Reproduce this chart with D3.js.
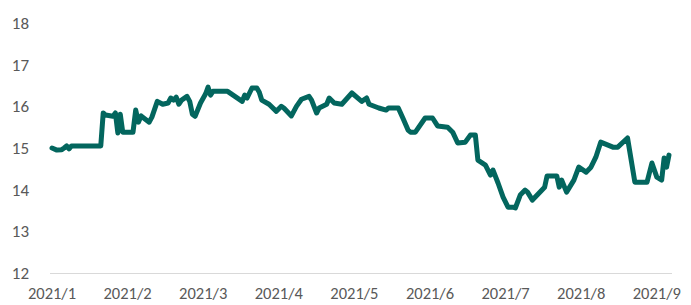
<!DOCTYPE html>
<html>
<head>
<meta charset="utf-8">
<script src="https://cdn.jsdelivr.net/npm/d3@7"></script>
<style>
  body { margin: 0; background: #fff; }
  svg { display: block; }
</style>
</head>
<body>
<div id="chart"></div>
<script>
// month tick labels (x axis) and y ticks
var months = ["2021/1", "2021/2", "2021/3", "2021/4", "2021/5", "2021/6", "2021/7", "2021/8", "2021/9"]
var yTicks = [12, 13, 14, 15, 16, 17, 18]

// series
var dates = [
  "2021-01-01", "2021-01-03", "2021-01-05", "2021-01-06", "2021-01-07", "2021-01-08", "2021-01-09", "2021-01-21",
  "2021-01-22", "2021-01-23", "2021-01-26", "2021-01-27", "2021-01-28", "2021-01-29", "2021-01-30",
  "2021-02-03", "2021-02-04", "2021-02-05", "2021-02-06", "2021-02-09", "2021-02-10", "2021-02-12", "2021-02-14",
  "2021-02-16", "2021-02-17", "2021-02-18", "2021-02-19", "2021-02-20", "2021-02-21", "2021-02-23", "2021-02-24",
  "2021-02-25", "2021-02-26", "2021-02-28",
  "2021-03-02", "2021-03-03", "2021-03-04", "2021-03-05", "2021-03-11", "2021-03-14", "2021-03-17", "2021-03-18",
  "2021-03-19", "2021-03-21", "2021-03-23", "2021-03-24", "2021-03-25", "2021-03-28", "2021-03-31",
  "2021-04-02", "2021-04-03", "2021-04-06", "2021-04-08", "2021-04-10", "2021-04-13", "2021-04-14", "2021-04-16",
  "2021-04-17", "2021-04-20", "2021-04-21", "2021-04-23", "2021-04-26", "2021-04-30",
  "2021-05-04", "2021-05-06", "2021-05-07", "2021-05-11", "2021-05-14", "2021-05-15", "2021-05-19", "2021-05-21",
  "2021-05-23", "2021-05-24", "2021-05-26", "2021-05-30",
  "2021-06-02", "2021-06-04", "2021-06-08", "2021-06-10", "2021-06-12", "2021-06-15", "2021-06-17", "2021-06-19",
  "2021-06-20", "2021-06-23", "2021-06-25", "2021-06-26", "2021-06-28", "2021-06-30",
  "2021-07-02", "2021-07-04", "2021-07-05", "2021-07-07", "2021-07-09", "2021-07-10", "2021-07-12", "2021-07-17",
  "2021-07-18", "2021-07-22", "2021-07-23", "2021-07-24", "2021-07-26", "2021-07-29", "2021-07-31",
  "2021-08-03", "2021-08-05", "2021-08-07", "2021-08-09", "2021-08-14", "2021-08-16", "2021-08-20", "2021-08-23",
  "2021-08-28", "2021-08-30",
  "2021-09-01", "2021-09-03", "2021-09-04", "2021-09-05", "2021-09-06"
]
var values = [
  15.00, 14.95, 14.96, 15.00, 15.05, 14.98, 15.05, 15.05,
  15.84, 15.79, 15.76, 15.84, 15.36, 15.81, 15.38,
  15.38, 15.91, 15.62, 15.77, 15.62, 15.74, 16.12, 16.05,
  16.08, 16.20, 16.15, 16.22, 16.05, 16.15, 16.24, 16.12,
  15.81, 15.76, 16.08,
  16.30, 16.46, 16.27, 16.36, 16.36, 16.24, 16.12, 16.27,
  16.20, 16.44, 16.44, 16.34, 16.15, 16.05, 15.88,
  16.00, 15.96, 15.77, 16.00, 16.17, 16.24, 16.15, 15.84,
  15.96, 16.05, 16.20, 16.08, 16.05, 16.32,
  16.12, 16.20, 16.05, 15.96, 15.91, 15.96, 15.96, 15.70,
  15.43, 15.38, 15.38, 15.72,
  15.72, 15.53, 15.50, 15.38, 15.12, 15.14, 15.31, 15.31,
  14.71, 14.59, 14.35, 14.47, 14.16, 13.82,
  13.58, 13.58, 13.56, 13.87, 13.99, 13.94, 13.75, 14.06,
  14.33, 14.33, 14.06, 14.23, 13.94, 14.23, 14.54,
  14.42, 14.54, 14.78, 15.14, 15.02, 15.02, 15.24, 14.18,
  14.18, 14.64,
  14.30, 14.23, 14.76, 14.54, 14.83
]

var width = 691
var height = 305
var left = 52, step = 75.6
var yTop = 23, yBottom = 273

var parse = d3.timeParse("%Y-%m-%d")
var monthDates = months.map(function(m, i) { return new Date(2021, i, 1) })

var svg = d3.select("#chart")
  .append("svg")
  .attr("width", width)
  .attr("height", height)

// months are drawn evenly spaced, so a piecewise time scale
var x = d3.scaleTime()
  .domain(monthDates)
  .range(monthDates.map(function(d, i) { return left + i * step }))

var y = d3.scaleLinear()
  .domain([12, 18])
  .range([yBottom, yTop])

var font = "Calibri, Carlito, 'Liberation Sans', Arial, sans-serif"

// baseline
svg.append("line")
  .attr("x1", 50)
  .attr("x2", 672)
  .attr("y1", y(12) + 0.5)
  .attr("y2", y(12) + 0.5)
  .attr("stroke", "#d9d9d9")
  .attr("stroke-width", 1)

// y labels
svg.append("g")
  .selectAll("text")
  .data(yTicks)
  .enter()
  .append("text")
    .attr("x", 29)
    .attr("y", function(d) { return y(d) })
    .attr("dy", "0.35em")
    .attr("text-anchor", "end")
    .style("font-family", font)
    .style("font-size", "17px")
    .attr("fill", "#595959")
    .text(function(d) { return d })

// x labels
svg.append("g")
  .selectAll("text")
  .data(months)
  .enter()
  .append("text")
    .attr("x", function(d, i) { return x(monthDates[i]) })
    .attr("y", 299)
    .attr("text-anchor", "middle")
    .style("font-family", font)
    .style("font-size", "16.5px")
    .attr("fill", "#595959")
    .text(function(d) { return d })

// the series
var points = dates.map(function(d, i) { return { date: parse(d), value: values[i] } })

var line = d3.line()
  .x(function(d) { return x(d.date) })
  .y(function(d) { return y(d.value) })

svg.append("path")
  .datum(points)
  .attr("d", line)
  .attr("fill", "none")
  .attr("stroke", "#03665e")
  .attr("stroke-width", 5)
  .attr("stroke-linejoin", "round")
  .attr("stroke-linecap", "round")
</script>
</body>
</html>
